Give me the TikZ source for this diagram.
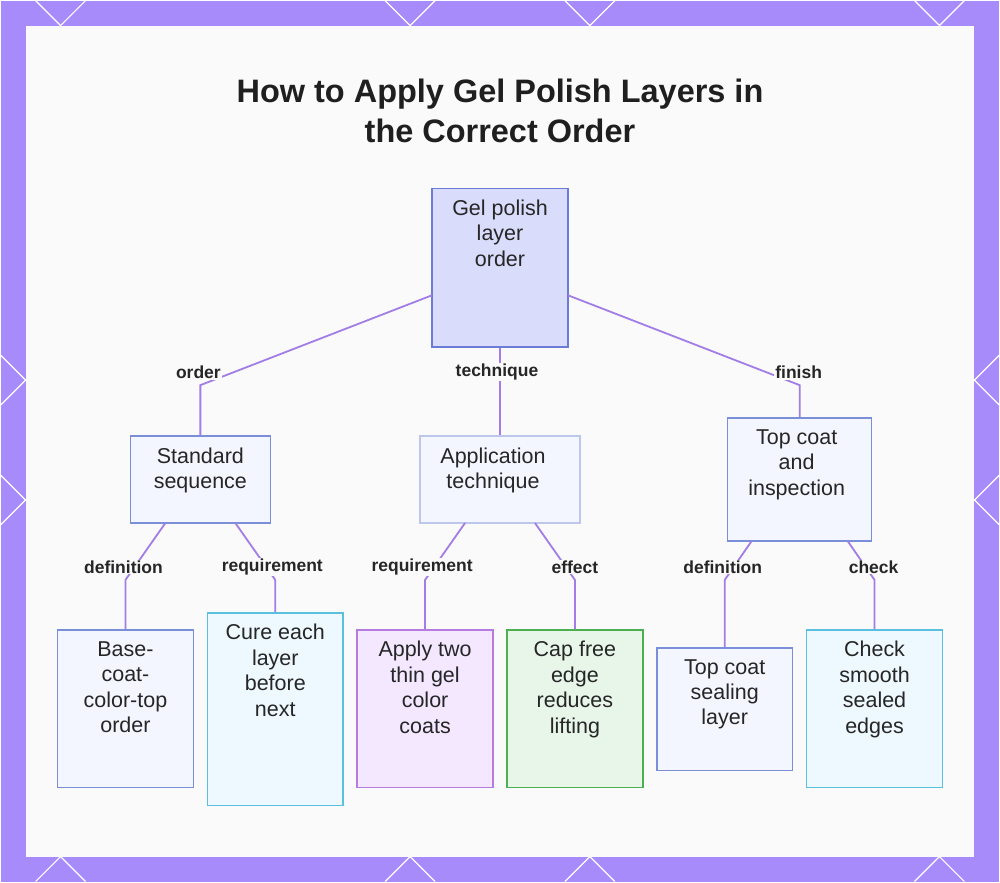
\documentclass[tikz,border=0pt]{standalone}
\usepackage{fontspec}
\setmainfont{Liberation Sans}
\usetikzlibrary{positioning}
\definecolor{frame}{HTML}{A78BFA}
\definecolor{wire}{HTML}{A27DE6}
\definecolor{rootfill}{HTML}{D9DCFB}
\definecolor{rootline}{HTML}{6B7BD6}
\definecolor{midfill}{HTML}{F4F6FF}
\definecolor{midline}{HTML}{7B8FD8}
\definecolor{cyanline}{HTML}{5BC0DE}
\definecolor{cyanfill}{HTML}{EEF8FF}
\definecolor{purpline}{HTML}{B57BE0}
\definecolor{purpfill}{HTML}{F3E8FF}
\definecolor{greenline}{HTML}{4CAF50}
\definecolor{greenfill}{HTML}{E8F5E9}
\tikzset{
  box/.style={draw=midline, fill=midfill, line width=1.5pt, inner sep=0pt},
  txt/.style={align=center, inner sep=0pt, font=\fontsize{21.5}{25.5}\selectfont, text=black!85},
  lbl/.style={font=\fontsize{17.5}{19}\selectfont\bfseries, text=black!85, fill=white!98!black, inner sep=1pt},
  link/.style={draw=wire, line width=1.8pt}
}
\begin{document}
\begin{tikzpicture}[x=1pt, y=-1pt]
\fill[frame] (0,0) rectangle (1000,882);
\fill[white!98!black] (25,25) rectangle (975,857);
\foreach \x in {60,410,590,940} {
  \draw[white, line width=1.2pt] (\x-25,0) -- (\x,25) -- (\x+25,0);
  \draw[white, line width=1.2pt] (\x-25,882) -- (\x,857) -- (\x+25,882);
}
\foreach \y in {380,500} {
  \draw[white, line width=1.2pt] (0,\y-25) -- (25,\y) -- (0,\y+25);
  \draw[white, line width=1.2pt] (1000,\y-25) -- (975,\y) -- (1000,\y+25);
}
\useasboundingbox (0,0) rectangle (1000,882);

% title
\node[font=\fontsize{32.5}{40}\selectfont\bfseries, align=center, text=black!88] (title) at (500,110)
  {How to Apply Gel Polish Layers in\\the Correct Order};

% boxes
\node[box, draw=rootline, fill=rootfill, minimum width=136pt, minimum height=159pt] (root) at (500,267.5) {};
\node[box, minimum width=140pt, minimum height=87pt] (std) at (200,479.5) {};
\node[box, draw=midline!50, minimum width=160pt, minimum height=87pt] (app) at (500,479.5) {};
\node[box, minimum width=144pt, minimum height=123pt] (top) at (800,479.5) {};

\node[box, minimum width=136pt, minimum height=158pt] (base) at (125,709) {};
\node[box, draw=cyanline, fill=cyanfill, minimum width=136pt, minimum height=193pt] (cure) at (275,709.5) {};
\node[box, draw=purpline, fill=purpfill, minimum width=136pt, minimum height=158pt] (thin) at (425,709) {};
\node[box, draw=greenline, fill=greenfill, minimum width=136pt, minimum height=158pt] (cap) at (575,709) {};
\node[box, minimum width=136pt, minimum height=123pt] (seal) at (725,709.5) {};
\node[box, draw=cyanline, fill=cyanfill, minimum width=136pt, minimum height=158pt] (chk) at (875,709) {};

% box texts
\node[txt, below=12pt of root.north] (rootT) {Gel polish\\layer\\order};
\node[txt, below=12pt of std.north] (stdT) {Standard\\sequence};
\node[txt, below=12pt of app.north, xshift=-7pt] (appT) {Application\\technique};
\node[txt, below=12pt of top.north, xshift=-3pt] (topT) {Top coat\\and\\inspection};
\node[txt, below=12pt of base.north] (baseT) {Base-\\coat-\\color-top\\order};
\node[txt, below=12pt of cure.north] (cureT) {Cure each\\layer\\before\\next};
\node[txt, below=12pt of thin.north] (thinT) {Apply two\\thin gel\\color\\coats};
\node[txt, below=12pt of cap.north] (capT) {Cap free\\edge\\reduces\\lifting};
\node[txt, below=12pt of seal.north] (sealT) {Top coat\\sealing\\layer};
\node[txt, below=12pt of chk.north] (chkT) {Check\\smooth\\sealed\\edges};

% bends
\coordinate (r1) at (432,295);
\coordinate (r3) at (568,295);
\coordinate (b1) at (200,385);
\coordinate (b3) at (800,385);
\coordinate (s1) at (165,523);
\coordinate (s2) at (235,523);
\coordinate (a1) at (465,523);
\coordinate (a2) at (535,523);
\coordinate (t1) at (752,541);
\coordinate (t2) at (848,541);

\draw[link] (r1) -- (b1) -- (std.north);
\draw[link] (root.south) -- (app.north);
\draw[link] (r3) -- (b3) -- (top.north);
\draw[link] (s1) -- (125,580) -- (base.north);
\draw[link] (s2) -- (275,580) -- (cure.north);
\draw[link] (a1) -- (425,580) -- (thin.north);
\draw[link] (a2) -- (575,580) -- (cap.north);
\draw[link] (t1) -- (725,580) -- (seal.north);
\draw[link] (t2) -- (875,580) -- (chk.north);

% labels
\node[lbl] (l1) at (198,372) {order};
\node[lbl] (l2) at (497,372) {technique};
\node[lbl] (l3) at (799,372) {finish};
\node[lbl] (l4) at (123,567) {definition};
\node[lbl] (l5) at (272,567) {requirement};
\node[lbl] (l6) at (422,567) {requirement};
\node[lbl] (l7) at (575,567) {effect};
\node[lbl] (l8) at (723,567) {definition};
\node[lbl] (l9) at (874,567) {check};
\end{tikzpicture}
\end{document}
